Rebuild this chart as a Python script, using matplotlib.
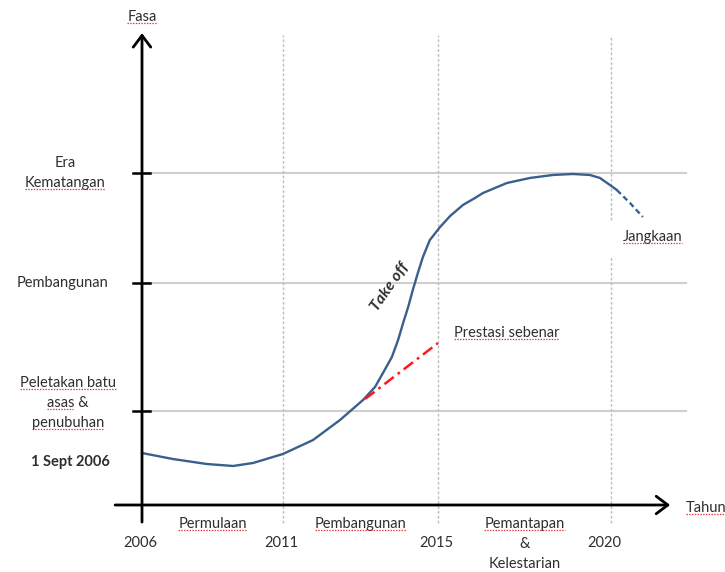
import numpy as np
import matplotlib.pyplot as plt
from matplotlib.lines import Line2D
from matplotlib.transforms import IdentityTransform

plt.rcParams['font.family'] = ['Lato', 'DejaVu Sans']
plt.rcParams['lines.scale_dashes'] = False

# the hand drawn time axis is not evenly spaced, so map years / phase levels
# onto drawing units with a piecewise scale
year_knots = [1990, 2006, 2011, 2015, 2020, 2030]
year_units = [-448, 0, 141, 296, 469, 815]
level_knots = [-3, 0, 1, 2, 3, 6]
level_units = [-285, 0, 94, 222, 332, 665]

# curve (year, phase level)
curve_year = [2006.0, 2007.1, 2008.3, 2009.23, 2009.94, 2011.0, 2011.774, 2012.47,
              2013.065, 2013.374, 2013.58, 2013.81, 2013.97, 2014.10, 2014.23, 2014.35,
              2014.48, 2014.61, 2014.79, 2015.06, 2015.35, 2015.72, 2016.07, 2016.30,
              2016.99, 2017.66, 2018.32, 2018.90, 2019.39, 2019.68, 2019.97, 2020.17]
curve_level = [0.553, 0.489, 0.436, 0.415, 0.447, 0.543, 0.691, 0.904,
               1.086, 1.1875, 1.297, 1.422, 1.555, 1.6875, 1.8125, 1.945,
               2.091, 2.236, 2.391, 2.509, 2.609, 2.709, 2.773, 2.818,
               2.909, 2.955, 2.982, 2.991, 2.982, 2.955, 2.891, 2.845]
forecast_year = [2020.17, 2020.55, 2020.92]
forecast_level = [2.845, 2.727, 2.60]
actual_year = [2013.12, 2015.0]
actual_level = [1.094, 1.531]

phase_levels = [3, 2, 1]
phase_labels = [['Era', 'Kematangan'], ['Pembangunan'], ['Peletakan batu', 'asas &', 'penubuhan']]
phase_marks = [[0, 1], [0], [1, 0.62, 1]]   # spell-check squiggles
tick_years = [2006, 2011, 2015, 2020]
period_labels = [['Permulaan'], ['Pembangunan'], ['Pemantapan', '&', 'Kelestarian']]
period_marks = [[1], [1], [1, 0, 0]]


def fwd_x(v):
    return np.interp(v, year_knots, year_units)


def inv_x(v):
    return np.interp(v, year_units, year_knots)


def fwd_y(v):
    return np.interp(v, level_knots, level_units)


def inv_y(v):
    return np.interp(v, level_units, level_knots)


fig = plt.figure(figsize=(7.25, 5.72), dpi=100)
ax = fig.add_axes([0, 0, 1, 1])
ax.set_xscale('function', functions=(fwd_x, inv_x))
ax.set_yscale('function', functions=(fwd_y, inv_y))
ax.set_xlim(inv_x(-142), inv_x(583))
ax.set_ylim(inv_y(-67), inv_y(505))
ax.axis('off')

txt = '#2e2e2e'
squiggles = []

x0, x1 = 2005.04, 2021.71
y0, y1 = -0.18, 4.26

# grid
for lv in phase_levels:
    ax.plot([tick_years[0], 2022.17], [lv, lv], color='#cfcfcf', lw=1.5, zorder=1)
for yr in tick_years[1:]:
    if yr == 2020:
        segs = [(-0.19, 2.236), (2.573, 4.24)]
    else:
        segs = [(-0.19, 4.24)]
    for a, b in segs:
        ax.plot([yr, yr], [a, b], color='#bdbdbd', lw=1.0, dashes=(2, 1.5), zorder=1)

# axes with arrows
arr = dict(arrowstyle='->,head_length=0.6,head_width=0.45', lw=2.0, color='black',
           shrinkA=0, shrinkB=0, mutation_scale=14)
ax.annotate('', xy=(x1, 0), xytext=(x0, 0), arrowprops=arr, zorder=4)
ax.annotate('', xy=(tick_years[0], y1), xytext=(tick_years[0], y0), arrowprops=arr, zorder=4)
for lv in phase_levels:
    ax.plot([2005.68, 2006.28], [lv, lv], color='black', lw=1.8, zorder=4)

# curves
ax.plot(curve_year, curve_level, color='#3a5f8e', lw=1.7, solid_capstyle='round',
        solid_joinstyle='round', zorder=3)
ax.plot(forecast_year, forecast_level, color='#3a5f8e', lw=1.7, dashes=(4, 2.5), zorder=3)
ax.plot(actual_year, actual_level, color='#ff1a1a', lw=1.8, dashes=(8.5, 3.5, 2, 3.5), zorder=3)


def stack(lines, xy, dx, dy, marks, **kw):
    for i, s in enumerate(lines):
        t = ax.annotate(s, xy, xytext=(dx, dy - i * 14.4), textcoords='offset points',
                        ha='center', va='center', color=txt, fontsize=10.5, **kw)
        if marks[i]:
            squiggles.append((t, marks[i]))


ylab_dx = [-55.4, -57.6, -53.3]
ylab_dy = [7.2, 0, 20.2]
for lv, lines, mk, dx, dy in zip(phase_levels, phase_labels, phase_marks, ylab_dx, ylab_dy):
    stack(lines, (tick_years[0], lv), dx, dy, mk, linespacing=1.0)

ax.annotate('1 Sept 2006', (tick_years[0], curve_level[0]), xytext=(-51.8, -6.5),
            textcoords='offset points', ha='center', va='center', color=txt,
            fontsize=10.5, fontweight='bold')

for yr in tick_years:
    ax.annotate(str(yr), (yr, 0), xytext=(-1 if yr != 2020 else -5, -27.4),
                textcoords='offset points', ha='center', va='center', color=txt, fontsize=10.5)

for i, lines in enumerate(period_labels):
    mid = (tick_years[i] + tick_years[i + 1]) / 2
    stack(lines, (mid, 0), 0, -13.7, period_marks[i])

stack(['Fasa'], (tick_years[0], y1), 0, 11.5, [1])
t = ax.annotate('Tahun', (x1, 0), xytext=(11.5, -2), textcoords='offset points',
                ha='left', va='center', color=txt, fontsize=10.5)
squiggles.append((t, 1))
t = ax.annotate('Prestasi sebenar', (actual_year[-1], actual_level[-1]), xytext=(11.5, 7.2),
                textcoords='offset points', ha='left', va='center', color=txt, fontsize=10.5)
squiggles.append((t, 1))
t = ax.annotate('Jangkaan', (forecast_year[-1], forecast_level[-1]), xytext=(-14.4, -14.4),
                textcoords='offset points', ha='left', va='center', color=txt, fontsize=10.5)
squiggles.append((t, 1))
ax.text(2013.76, 1.969, 'Take off', rotation=55, ha='center', va='center', color=txt,
        fontsize=11.5, fontweight='bold', fontstyle='italic')

# red spell-check underlines
fig.canvas.draw()
rend = fig.canvas.get_renderer()
for t, frac in squiggles:
    bb = t.get_window_extent(rend)
    fig.add_artist(Line2D([bb.x0, bb.x0 + frac * bb.width], [bb.y0 + 1, bb.y0 + 1],
                          transform=IdentityTransform(), color='#e03030', lw=0.9,
                          dashes=(1, 1)))

fig.savefig('out.png', dpi=100)
